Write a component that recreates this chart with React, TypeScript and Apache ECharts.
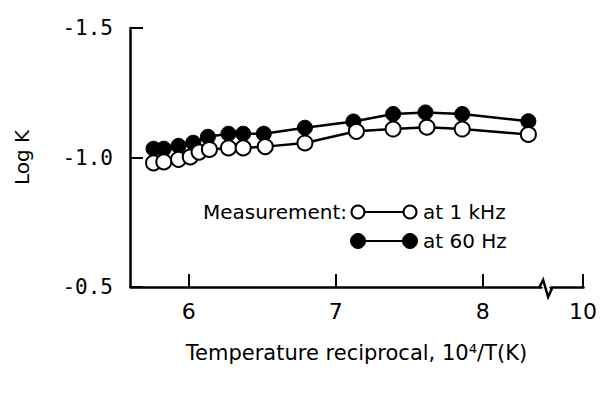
import React, { useEffect, useRef } from "react";
import * as echarts from "echarts";

const xTicks = [6, 7, 8, 10];
const yTicks = [-1.5, -1.0, -0.5];
const xBreak = [8.4, 9.78];
const kHzX = [5.76, 5.83, 5.93, 6.01, 6.07, 6.14, 6.27, 6.37, 6.52, 6.79, 7.14, 7.39, 7.62, 7.86, 8.31];
const kHzY = [-0.979, -0.983, -0.993, -1.002, -1.021, -1.031, -1.037, -1.037, -1.042, -1.056, -1.101, -1.11, -1.117, -1.11, -1.089];
const hzX = [5.76, 5.83, 5.93, 6.03, 6.13, 6.27, 6.37, 6.51, 6.79, 7.12, 7.39, 7.61, 7.86, 8.31];
const hzY = [-1.034, -1.034, -1.045, -1.057, -1.08, -1.092, -1.092, -1.092, -1.115, -1.139, -1.168, -1.174, -1.168, -1.14];
const seriesNames = ["at 1 kHz", "at 60 Hz"];
const legendTitle = "Measurement:";
const xName = "Temperature reciprocal, 10⁴/T(K)";
const yName = "Log K";

export default function App() {
  const ref = useRef<HTMLDivElement>(null);
  useEffect(() => {
    const chart = echarts.init(ref.current!, null, { renderer: "svg" });
    const font = "DejaVu Sans";
    const legendText = { fontFamily: font, fontSize: 20, fill: "#000" };
    chart.setOption({
      animation: false,
      backgroundColor: "#fff",
      grid: { left: 130, right: 18, top: 28, bottom: 111, containLabel: false },
      xAxis: {
        type: "value",
        min: 5.6,
        max: 10,
        breaks: [{ start: xBreak[0], end: xBreak[1], gap: "2%" }],
        breakArea: {
          show: true,
          itemStyle: { color: "#fff", borderColor: "#fff", borderWidth: 0, opacity: 1 },
          zigzagAmplitude: 4,
          expandOnClick: false,
        },
        name: xName,
        nameLocation: "middle",
        nameGap: 55,
        nameTextStyle: { fontFamily: font, fontSize: 21, color: "#000" },
        axisLine: { onZero: false, lineStyle: { color: "#000", width: 2.5 } },
        axisTick: { customValues: xTicks, inside: true, length: 13, lineStyle: { color: "#000", width: 2 } },
        axisLabel: { customValues: xTicks, margin: 13, fontFamily: font, fontSize: 22, color: "#000" },
        splitLine: { show: false },
      },
      yAxis: {
        type: "value",
        inverse: true,
        min: yTicks[0],
        max: yTicks[yTicks.length - 1],
        interval: 0.5,
        name: yName,
        nameLocation: "middle",
        nameGap: 98,
        nameRotate: 90,
        nameTextStyle: { fontFamily: font, fontSize: 20, color: "#000" },
        axisLine: { lineStyle: { color: "#000", width: 2.5 } },
        axisTick: { inside: true, length: 13, lineStyle: { color: "#000", width: 2 } },
        axisLabel: {
          margin: 17,
          fontFamily: "DejaVu Sans Mono",
          fontSize: 21,
          color: "#000",
          formatter: (v: number) => v.toFixed(1),
        },
        splitLine: { show: false },
      },
      series: [
        {
          name: seriesNames[1],
          type: "line",
          data: hzX.map((x, i) => [x, hzY[i]]),
          symbol: "circle",
          symbolSize: 15,
          showAllSymbol: true,
          lineStyle: { color: "#000", width: 2.5 },
          itemStyle: { color: "#000", borderColor: "#000", borderWidth: 1 },
          z: 2,
        },
        {
          name: seriesNames[0],
          type: "line",
          data: kHzX.map((x, i) => [x, kHzY[i]]),
          symbol: "circle",
          symbolSize: 15,
          showAllSymbol: true,
          lineStyle: { color: "#000", width: 2.5 },
          itemStyle: { color: "#fff", borderColor: "#000", borderWidth: 2 },
          z: 3,
        },
      ],
    });

    const xa = chart.convertToPixel({ xAxisIndex: 0 }, xBreak[0]) as number;
    const xb = chart.convertToPixel({ xAxisIndex: 0 }, xBreak[1]) as number;
    const y0 = chart.convertToPixel({ yAxisIndex: 0 }, yTicks[yTicks.length - 1]) as number;
    const mid = (xa + xb) / 2;

    chart.setOption({
      graphic: [
        {
          type: "polyline",
          z: 100,
          shape: {
            points: [
              [xa - 2, y0],
              [mid - 3, y0 - 7],
              [mid + 2, y0 + 10],
              [xb + 2, y0],
            ],
          },
          style: { stroke: "#000", lineWidth: 2.5, fill: "none" },
        },
        { type: "text", x: 347, y: 212, style: { ...legendText, text: legendTitle, align: "right", verticalAlign: "middle" } },
        { type: "line", shape: { x1: 358, y1: 212, x2: 410, y2: 212 }, style: { stroke: "#000", lineWidth: 2 } },
        { type: "circle", shape: { cx: 358, cy: 212, r: 6.5 }, style: { fill: "#fff", stroke: "#000", lineWidth: 2 } },
        { type: "circle", shape: { cx: 410, cy: 212, r: 6.5 }, style: { fill: "#fff", stroke: "#000", lineWidth: 2 } },
        { type: "text", x: 423, y: 212, style: { ...legendText, text: seriesNames[0], align: "left", verticalAlign: "middle" } },
        { type: "line", shape: { x1: 358, y1: 241, x2: 410, y2: 241 }, style: { stroke: "#000", lineWidth: 2 } },
        { type: "circle", shape: { cx: 358, cy: 241, r: 7.5 }, style: { fill: "#000", stroke: "#000", lineWidth: 1 } },
        { type: "circle", shape: { cx: 410, cy: 241, r: 7.5 }, style: { fill: "#000", stroke: "#000", lineWidth: 1 } },
        { type: "text", x: 423, y: 241, style: { ...legendText, text: seriesNames[1], align: "left", verticalAlign: "middle" } },
      ],
    });
    return () => chart.dispose();
  }, []);
  return <div ref={ref} style={{ width: 601, height: 398, position: "absolute", left: 0, top: 0 }} />;
}
